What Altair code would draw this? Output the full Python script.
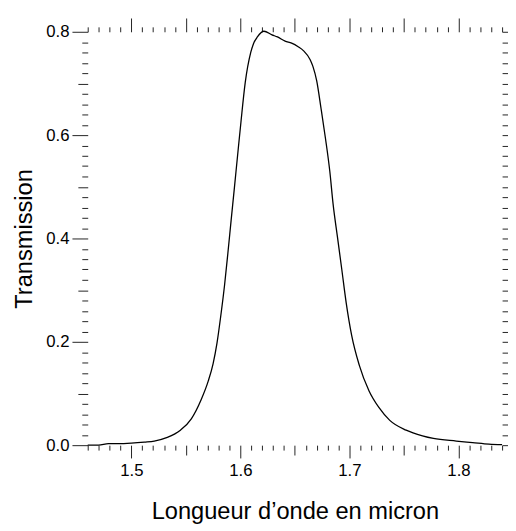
import altair as alt
import pandas as pd

# Wavelength (micron) and transmission
wavelength = [1.460, 1.470, 1.479, 1.488, 1.500, 1.512, 1.521, 1.533, 1.545, 1.555,
              1.564, 1.5705, 1.575, 1.5785, 1.582, 1.5855, 1.5885, 1.5915, 1.5945, 1.5975,
              1.6005, 1.6044, 1.6095, 1.612, 1.6156, 1.6216, 1.629, 1.634, 1.641, 1.647,
              1.653, 1.658, 1.664, 1.6665, 1.670, 1.674, 1.678, 1.682, 1.685, 1.689,
              1.693, 1.697, 1.702, 1.709, 1.718, 1.727, 1.737, 1.752, 1.767,
              1.777, 1.798, 1.813, 1.828, 1.840]
transmission = [0.000, 0.000, 0.003, 0.003, 0.004, 0.006, 0.008, 0.015, 0.029, 0.051,
                0.088, 0.124, 0.158, 0.197, 0.250, 0.310, 0.371, 0.435, 0.498, 0.562,
                0.625, 0.701, 0.760, 0.777, 0.790, 0.801, 0.794, 0.790, 0.782, 0.778,
                0.771, 0.763, 0.746, 0.733, 0.705, 0.651, 0.594, 0.530, 0.467, 0.403,
                0.340, 0.276, 0.213, 0.155, 0.105, 0.073, 0.048, 0.029, 0.018,
                0.013, 0.008, 0.005, 0.002, 0.001]

x_domain = [1.46, 1.84]
y_domain = [0.0, 0.8]
x_tick_values = [round(1.46 + 0.01 * i, 2) for i in range(39)]
y_tick_values = [round(0.02 * i, 2) for i in range(41)]

df = pd.DataFrame({"w": wavelength, "t": transmission})

FONT = "Liberation Sans"

x_major = "abs(datum.value*10 - round(datum.value*10)) < 0.000001"
x_mid = "abs(datum.value*20 - round(datum.value*20)) < 0.000001"
y_major = "abs(datum.value*5 - round(datum.value*5)) < 0.000001"
y_mid = "abs(datum.value*10 - round(datum.value*10)) < 0.000001"

x_scale = alt.Scale(domain=x_domain, nice=False, zero=False)
y_scale = alt.Scale(domain=y_domain, nice=False, zero=False)

base = alt.Chart(df)

line = base.mark_line(color="black", strokeWidth=1.3, interpolate="monotone").encode(
    x=alt.X("w:Q", scale=x_scale, title="Longueur d\u2019onde en micron",
            axis=alt.Axis(orient="bottom", values=x_tick_values, domain=False, grid=False,
                          tickColor="#222222", tickWidth=1,
                          tickSize={"condition": [{"test": x_major, "value": 13},
                                                  {"test": x_mid, "value": 10}], "value": 5},
                          labelExpr=f"{x_major} ? format(datum.value, '.1f') : ''",
                          labelOverlap=False, labelFlush=False,
                          labelFont=FONT, labelFontSize=17, labelColor="black",
                          labelBaseline="alphabetic", labelPadding=18,
                          titleFont=FONT, titleFontSize=24, titleFontWeight="normal",
                          titleColor="black", titleBaseline="alphabetic", titleY=75)),
    y=alt.Y("t:Q", scale=y_scale, title="Transmission",
            axis=alt.Axis(orient="left", values=y_tick_values, domain=False, grid=False,
                          tickColor="#222222", tickWidth=1,
                          tickSize={"condition": [{"test": y_major, "value": 16},
                                                  {"test": y_mid, "value": 10}], "value": 6},
                          labelExpr=f"{y_major} ? format(datum.value, '.1f') : ''",
                          labelOverlap=False, labelFlush=False,
                          labelFont=FONT, labelFontSize=17, labelColor="black",
                          labelPadding=3,
                          titleFont=FONT, titleFontSize=24, titleFontWeight="normal",
                          titleColor="black", titleBaseline="alphabetic", titleX=-57)),
)

frame = base.mark_line(opacity=0).encode(
    x=alt.X("w:Q", scale=x_scale, title=None,
            axis=alt.Axis(orient="top", values=x_tick_values, domain=False, grid=False,
                          labels=False, tickColor="#222222", tickWidth=1,
                          tickSize={"condition": {"test": x_mid, "value": 14}, "value": 5})),
    y=alt.Y("t:Q", scale=y_scale, title=None,
            axis=alt.Axis(orient="right", values=y_tick_values, domain=False, grid=False,
                          labels=False, tickColor="#222222", tickWidth=1,
                          tickSize={"condition": [{"test": y_major, "value": 16},
                                                  {"test": y_mid, "value": 10}], "value": 6})),
)

chart = alt.layer(line, frame).resolve_axis(x="independent", y="independent").properties(
    width=421, height=420,
    autosize=alt.AutoSizeParams(type="none"),
    padding={"left": 81, "top": 20, "right": 6, "bottom": 80},
    background="white",
).configure_view(stroke=None)

chart.save("out.html", embed_options={"renderer": "svg", "actions": False})
